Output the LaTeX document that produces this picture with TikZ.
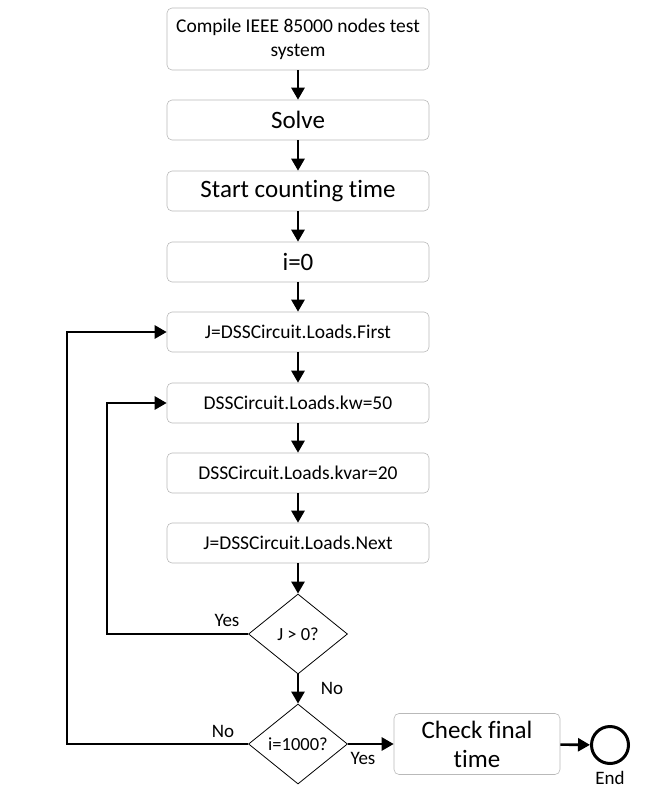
\documentclass[tikz,border=0pt]{standalone}
\usepackage{fontspec}
\setmainfont{Carlito}[Ligatures={NoCommon}]
\usetikzlibrary{shapes.geometric,arrows.meta}
\begin{document}
\begin{tikzpicture}[x=1pt,y=-1pt,
  stepbox/.style={draw=gray!55,line width=0.6pt,rounded corners=5pt,minimum width=262pt,minimum height=40pt,inner sep=0pt,align=center,font=\fontsize{19.5}{24}\selectfont},
  bigtext/.style={font=\fontsize{25}{29}\selectfont},
  test/.style={draw,shape=diamond,minimum width=99pt,minimum height=80pt,inner sep=0pt,line width=0.8pt,font=\fontsize{18.5}{22}\selectfont},
  flow/.style={-{Triangle[length=12pt,width=13pt]},line width=2.6pt},
  lbl/.style={font=\fontsize{19}{22}\selectfont}]
\useasboundingbox (0,0) rectangle (650,811);
\node[stepbox,minimum height=62pt] (compile) at (298,39) {Compile IEEE 85000 nodes test\\system};
\node[stepbox,bigtext] (solve) at (298,120) {Solve};
\node[stepbox,bigtext] (start) at (298,191) {Start counting time};
\node[stepbox,bigtext] (izero) at (298,262) {i=0};
\node[stepbox] (first) at (298,332) {J=DSSCircuit.Loads.First};
\node[stepbox] (kw) at (298,403) {DSSCircuit.Loads.kw=50};
\node[stepbox] (kvar) at (298,473) {DSSCircuit.Loads.kvar=20};
\node[stepbox] (next) at (298,543) {J=DSSCircuit.Loads.Next};
\node[test] (jtest) at (298,634) {J > 0?};
\node[test] (itest) at (298,744) {i=1000?};
\node[stepbox,bigtext,minimum width=166pt,minimum height=61pt] (check) at (477,744) {Check final\\time};
\node[circle,draw,line width=3pt,minimum size=37pt,inner sep=0pt] (finish) at (610,745) {};
\node[lbl] (endtext) at (610,778) {End};
\coordinate (inner) at (107,634);
\coordinate (outer) at (67,744);
\draw[flow] (compile) -- (solve);
\draw[flow] (solve) -- (start);
\draw[flow] (start) -- (izero);
\draw[flow] (izero) -- (first);
\draw[flow] (first) -- (kw);
\draw[flow] (kw) -- (kvar);
\draw[flow] (kvar) -- (next);
\draw[flow] (next) -- (jtest);
\draw[flow] (jtest) -- (itest);
\draw[flow] (itest) -- (check);
\draw[flow] (check) -- (finish);
\draw[flow] (jtest.west) -- (inner) |- (kw.west);
\draw[flow] (itest.west) -- (outer) |- (first.west);
\node[lbl] (yesj) at (227,620) {Yes};
\node[lbl] (noj) at (332,688) {No};
\node[lbl] (noi) at (223,731) {No};
\node[lbl] (yesi) at (363,758) {Yes};
\end{tikzpicture}
\end{document}
